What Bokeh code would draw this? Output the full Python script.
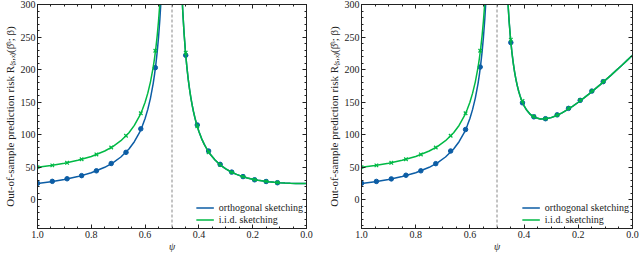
from bokeh.plotting import figure
from bokeh.models import (Range1d, SingleIntervalTicker, LinearAxis, Span, Legend,
                          LegendItem, PrintfTickFormatter, CustomLabelingPolicy)
from bokeh.layouts import row
from bokeh.embed import file_html
from bokeh.resources import INLINE

BLUE = "#0C5DA5"
GREEN = "#00B945"
FONT = "Liberation Serif"
INK = "#222222"

# ---- theory curves ----
psi_under = [1.0, 0.95, 0.9, 0.85, 0.8, 0.75, 0.72, 0.69, 0.66, 0.64, 0.62, 0.61, 0.60,
             0.59, 0.58, 0.57, 0.565, 0.56, 0.555, 0.55, 0.545, 0.54, 0.535]
orth_under = [25, 27.78, 31.25, 35.71, 41.67, 50, 56.82, 65.79, 78.13, 89.29, 104.17, 113.64,
              125, 138.89, 156.25, 178.57, 192.31, 208.33, 227.27, 250, 277.78, 312.5, 357.14]
iid_under = [50, 52.78, 56.25, 60.71, 66.67, 75, 81.82, 90.79, 103.13, 114.29, 129.17, 138.64,
             150, 163.89, 181.25, 203.57, 217.31, 233.33, 252.27, 275, 302.78, 337.5, 382.14]

psi_over = [0.465, 0.46, 0.455, 0.45, 0.445, 0.44, 0.435, 0.43, 0.425, 0.42, 0.415, 0.41,
            0.40, 0.39, 0.38, 0.37, 0.36, 0.34, 0.32, 0.30, 0.28, 0.26, 0.24, 0.22, 0.20,
            0.18, 0.16, 0.14, 0.12, 0.10, 0.08, 0.06, 0.04, 0.02, 0.0]
over_a = [333.9, 289.5, 255.0, 227.5, 205.0, 186.3, 170.6, 157.1, 145.4, 135.3, 126.3, 118.4,
          105.0, 94.1, 85.2, 77.7, 71.3, 61.1, 53.4, 47.5, 42.8, 39.1, 36.1, 33.6, 31.7,
          30.1, 28.8, 27.7, 26.9, 26.3, 25.8, 25.4, 25.2, 25.0, 25.0]
over_b = [347.7, 305.3, 272.8, 247.2, 226.7, 210.0, 196.2, 184.7, 175.0, 166.8, 159.8, 153.9,
          144.4, 137.5, 132.5, 128.9, 126.5, 124.2, 124.4, 126.3, 129.5, 133.6, 138.5, 144.0,
          149.9, 156.1, 162.7, 169.6, 176.6, 183.9, 191.2, 198.8, 206.4, 214.2, 222.0]

# ---- simulated points ----
psi_pts_under = [1.0, 0.945, 0.890, 0.836, 0.781, 0.726, 0.671, 0.616, 0.562]
psi_pts_over = [0.449, 0.406, 0.364, 0.321, 0.278, 0.236, 0.193, 0.150, 0.108]

a_orth_under = [25.4, 28.4, 32.4, 37.2, 44.6, 55.8, 73.0, 109, 203]
a_iid_under = [50.2, 53.0, 56.9, 62.3, 69.7, 80.4, 98.4, 133, 229]
a_orth_over = [222, 115, 75, 54.5, 42.6, 35.7, 30.8, 28.2, 26.3]
a_iid_over = [226, 113, 73, 54.0, 42.4, 35.6, 31.0, 28.4, 26.6]

b_orth_under = [25.4, 28.3, 32.2, 37.8, 44.6, 55.6, 75.0, 108, 204]
b_iid_under = [50.2, 53.0, 56.9, 62.3, 69.7, 80.4, 98.4, 133, 229]
b_orth_over = [241.5, 149, 127.5, 124.6, 130.5, 140.5, 152.8, 167, 181.5]
b_iid_over = [246, 152, 128, 124.8, 130.3, 140.8, 153, 167.3, 181.8]

x_label = "ψ"
y_label = "Out-of-sample prediction risk R₍ₛ,ₓ₎(β̂ˢ; β)"
legend_labels = ["orthogonal sketching", "i.i.d. sketching"]

HIDE_LABELS = """
try {
  for (const i of Array.from(indices.ones())) { indices.unset(i) }
} catch (e) {}
return indices
"""


def style_axis(ax, show):
    ax.major_tick_in = 4
    ax.major_tick_out = 0
    ax.minor_tick_in = 2
    ax.minor_tick_out = 0
    ax.axis_line_color = INK
    ax.major_tick_line_color = INK
    ax.minor_tick_line_color = INK
    ax.major_label_text_font = FONT
    ax.major_label_text_color = INK
    if show:
        ax.major_label_text_font_size = "10px"
        ax.major_label_standoff = 2
    else:
        ax.major_label_text_font_size = "0px"
        ax.major_label_standoff = 0
        ax.major_label_policy = CustomLabelingPolicy(code=HIDE_LABELS)
        ax.axis_label = None


def make_panel(over_line, orth_u, iid_u, orth_o, iid_o, width, bl, br):
    p = figure(width=width, height=254, output_backend="svg", toolbar_location=None,
               x_range=Range1d(1.0, 0.0), y_range=Range1d(-44, 300),
               min_border_left=bl, min_border_right=br, min_border_top=4,
               min_border_bottom=22)
    p.xgrid.visible = False
    p.ygrid.visible = False
    p.outline_line_color = INK
    p.background_fill_color = "white"

    p.xaxis.ticker = SingleIntervalTicker(interval=0.2, num_minor_ticks=4)
    p.yaxis.ticker = SingleIntervalTicker(interval=50, num_minor_ticks=5)
    p.xaxis.formatter = PrintfTickFormatter(format="%.1f")
    p.yaxis.formatter = PrintfTickFormatter(format="%d")
    style_axis(p.xaxis[0], True)
    style_axis(p.yaxis[0], True)
    p.xaxis.axis_label = x_label
    p.xaxis.axis_label_text_font = FONT
    p.xaxis.axis_label_text_font_size = "10px"
    p.xaxis.axis_label_text_font_style = "italic"
    p.xaxis.axis_label_text_color = INK
    p.xaxis.axis_label_standoff = 0
    p.yaxis.axis_label = y_label
    p.yaxis.axis_label_text_font = FONT
    p.yaxis.axis_label_text_font_size = "11px"
    p.yaxis.axis_label_text_font_style = "normal"
    p.yaxis.axis_label_text_color = INK
    p.yaxis.axis_label_standoff = 2

    ax_r = LinearAxis(ticker=SingleIntervalTicker(interval=50, num_minor_ticks=5))
    style_axis(ax_r, False)
    p.add_layout(ax_r, "right")
    ax_t = LinearAxis(ticker=SingleIntervalTicker(interval=0.2, num_minor_ticks=4))
    style_axis(ax_t, False)
    p.add_layout(ax_t, "above")

    p.add_layout(Span(location=0.5, dimension="height", line_color="#888888",
                      line_dash="3 2", line_width=1))

    lb1 = p.line(psi_under, orth_under, line_color=BLUE, line_width=1.5)
    p.line(psi_over, over_line, line_color=BLUE, line_width=1.5)
    p.scatter(psi_pts_under, orth_u, marker="circle", size=4.5, color=BLUE)
    p.scatter(psi_pts_over, orth_o, marker="circle", size=4.5, color=BLUE)

    lg1 = p.line(psi_under, iid_under, line_color=GREEN, line_width=1.5)
    p.line(psi_over, over_line, line_color=GREEN, line_width=1.5)
    p.scatter(psi_pts_under, iid_u, marker="x", size=5, line_color=GREEN, line_width=1.2)
    p.scatter(psi_pts_over, iid_o, marker="x", size=5, line_color=GREEN, line_width=1.2)

    legend = Legend(items=[LegendItem(label=legend_labels[0], renderers=[lb1]),
                           LegendItem(label=legend_labels[1], renderers=[lg1])],
                    location="bottom_right")
    legend.border_line_color = None
    legend.background_fill_alpha = 0
    legend.label_text_font = FONT
    legend.label_text_font_size = "10px"
    legend.label_text_color = INK
    legend.glyph_width = 18
    legend.glyph_height = 11
    legend.label_height = 11
    legend.spacing = 1
    legend.padding = 2
    legend.margin = 3
    legend.label_standoff = 5
    p.add_layout(legend)
    return p


p1 = make_panel(over_a, a_orth_under, a_iid_under, a_orth_over, a_iid_over, 320, 34, 14)
p2 = make_panel(over_b, b_orth_under, b_iid_under, b_orth_over, b_iid_over, 320, 41, 8)

layout = row(p1, p2)
open("out.html", "w").write(file_html(layout, INLINE))
